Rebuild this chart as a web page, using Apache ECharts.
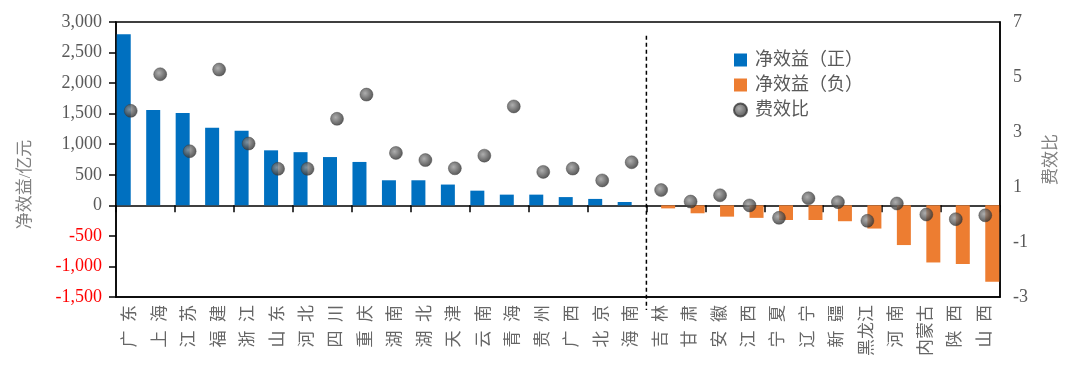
<!DOCTYPE html>
<html>
<head>
<meta charset="utf-8">
<script src="https://cdn.jsdelivr.net/npm/echarts@6/dist/echarts.min.js"></script>
<style>
html,body{margin:0;padding:0;background:#fff;}
#c{width:1080px;height:375px;}
</style>
</head>
<body>
<div id="c"></div>
<script>
// ---- data ----
const provinces = ['广东','上海','江苏','福建','浙江','山东','河北','四川','重庆','湖南','湖北','天津','云南','青海','贵州','广西','北京','海南','吉林','甘肃','安徽','江西','宁夏','辽宁','新疆','黑龙江','河南','内蒙古','陕西','山西'];
const netBenefit = [2800,1560,1510,1270,1220,900,870,790,710,410,410,340,240,175,175,135,105,55,-50,-130,-185,-205,-240,-240,-260,-380,-650,-935,-960,-1250];
const costRatio = [3.77,5.10,2.30,5.27,2.58,1.66,1.66,3.48,4.36,2.24,1.98,1.68,2.14,3.93,1.55,1.67,1.24,1.90,0.89,0.47,0.70,0.33,-0.12,0.59,0.45,-0.23,0.40,0.00,-0.17,-0.03];
const leftTicks = {min:-1500, max:3000, interval:500};
const rightTicks = {min:-3, max:7, interval:2};
const dividerAfter = 17; // boundary between 海南 and 吉林
// ----------------

const posData = netBenefit.map(v => v >= 0 ? v : '-');
const negData = netBenefit.map(v => v < 0 ? v : '-');

const serif = "'Liberation Serif','Noto Sans CJK SC',serif";
const chart = echarts.init(document.getElementById('c'));
const dotColor = {type:'radial', x:0.4, y:0.4, r:0.65, colorStops:[
  {offset:0, color:'#9a9a9a'},{offset:0.6, color:'#555555'},{offset:1, color:'#2a2a2a'}]};

chart.setOption({
  animation:false,
  grid:{left:116, right:80, top:22, bottom:78, show:true, borderColor:'#000', borderWidth:1.5, backgroundColor:'transparent'},
  legend:{
    orient:'vertical', left:733, top:51, padding:0, itemGap:7, itemWidth:13, itemHeight:13,
    textStyle:{fontSize:18, color:'#595959', fontFamily:serif, padding:[0,0,0,3]},
    data:[{name:'净效益（正）', icon:'rect'},{name:'净效益（负）', icon:'rect'},{name:'费效比', icon:'circle'}]
  },
  xAxis:[
    {type:'category', data:provinces, position:'bottom',
     axisLine:{onZero:false, lineStyle:{color:'#000', width:1.5}},
     axisTick:{show:false},
     axisLabel:{rotate:90, margin:8, fontSize:17, color:'#666', fontFamily:serif, interval:0,
       formatter: n => n.length === 2 ? n[0] + '\u2002' + n[1] : n}},
    {type:'category', data:provinces, position:'top',
     axisLine:{onZero:true, onZeroAxisIndex:0, lineStyle:{color:'#000', width:1.5}},
     axisTick:{show:true, inside:true, length:7, lineStyle:{color:'#000', width:1.5}},
     axisLabel:{show:false}}
  ],
  yAxis:[
    {type:'value', min:leftTicks.min, max:leftTicks.max, interval:leftTicks.interval,
     name:'净效益/亿元', nameLocation:'middle', nameRotate:90, nameGap:82,
     nameTextStyle:{fontSize:17, color:'#808080', fontFamily:serif, padding:[0,50,0,0]},
     axisLine:{show:true, lineStyle:{color:'#000', width:1.5}},
     axisTick:{show:true, length:7, lineStyle:{color:'#000', width:1.5}},
     splitLine:{show:false},
     axisLabel:{fontSize:18, margin:14, fontFamily:serif,
       color: v => (Number(v) < 0 ? '#FF0000' : '#595959'),
       formatter: v => v.toLocaleString('en-US')}},
    {type:'value', min:rightTicks.min, max:rightTicks.max, interval:rightTicks.interval,
     name:'费效比', nameLocation:'middle', nameRotate:90, nameGap:43,
     nameTextStyle:{fontSize:17, color:'#808080', fontFamily:serif},
     axisLine:{show:true, lineStyle:{color:'#000', width:1.5}},
     axisTick:{show:false},
     splitLine:{show:false},
     axisLabel:{fontSize:18, margin:13, color:'#595959', fontFamily:serif}}
  ],
  series:[
    {name:'净效益（正）', type:'bar', data:posData, yAxisIndex:0, xAxisIndex:0,
     barGap:'0%', barCategoryGap:'5%', itemStyle:{color:'#0070C0'}, z:2},
    {name:'净效益（负）', type:'bar', data:negData, yAxisIndex:0, xAxisIndex:0,
     barGap:'0%', barCategoryGap:'5%', itemStyle:{color:'#ED7D31'}, z:2},
    {name:'费效比', type:'scatter', data:costRatio, yAxisIndex:1, xAxisIndex:0,
     symbolSize:13, itemStyle:{color:dotColor, borderColor:'#3a3a3a', borderWidth:0.5}, z:5}
  ]
});

// dashed divider between the positive and negative groups
const xa = chart.convertToPixel({xAxisIndex:0}, dividerAfter);
const xb = chart.convertToPixel({xAxisIndex:0}, dividerAfter + 1);
const xDiv = (xa + xb) / 2;
const yTop = chart.convertToPixel({yAxisIndex:1}, 6.5);
const gridRect = chart.getModel().getComponent('grid').coordinateSystem.getRect();
const yBot = gridRect.y + gridRect.height + 13;
chart.setOption({graphic:[{type:'line', shape:{x1:xDiv, y1:yTop, x2:xDiv, y2:yBot},
  style:{stroke:'#000', lineWidth:1.5, lineDash:[4,3]}, z:10}]});
</script>
</body>
</html>
